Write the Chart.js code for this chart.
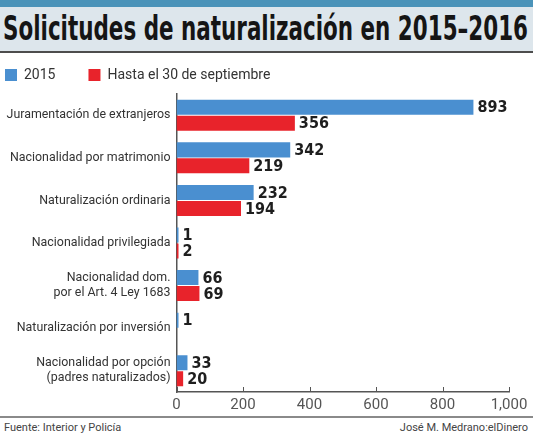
<!DOCTYPE html>
<html>
<head>
<meta charset="utf-8">
<script src="https://cdn.jsdelivr.net/npm/chart.js@4/dist/chart.umd.min.js"></script>
<style>
  html, body { margin: 0; padding: 0; background: #fff; }
  #page { position: relative; width: 533px; height: 440px; overflow: hidden; font-family: Roboto, 'DejaVu Sans Condensed', sans-serif; }
  #stripe { position: absolute; left: 0; top: 0; width: 533px; height: 7px; background: #4a93b9; }
  #head { position: absolute; left: 0; top: 7px; width: 533px; height: 44px; background: #dde6ec; border-bottom: 2px solid #4d4d4d; }
  #title { position: absolute; left: 3px; top: 3px; margin: 0; font-family: 'DejaVu Sans Condensed', sans-serif; font-size: 33px; font-weight: bold; color: #151515; white-space: nowrap; transform-origin: 0 0; line-height: 38px; }
  #foot { position: absolute; left: 0; top: 416px; width: 533px; height: 2px; background: #8a8a8a; }
  .src { position: absolute; top: 421px; font-size: 11px; color: #444; white-space: nowrap; }
  canvas { position: absolute; left: 0; top: 0; }
</style>
</head>
<body>
<div id="page">
  <div id="stripe"></div>
  <div id="head"><h1 id="title">Solicitudes de naturalización en 2015–2016</h1></div>
  <div id="foot"></div>
  <div class="src" style="left:4px">Fuente: Interior y Policía</div>
  <div class="src" style="right:5px">José M. Medrano:elDinero</div>
  <canvas id="myChart" width="533" height="440"></canvas>
</div>
<script>
/* global Chart */
var categories = [
  'Juramentación de extranjeros',
  'Nacionalidad por matrimonio',
  'Naturalización ordinaria',
  'Nacionalidad privilegiada',
  ['Nacionalidad dom.', 'por el Art. 4 Ley 1683'],
  'Naturalización por inversión',
  ['Nacionalidad por opción', '(padres naturalizados)']
]
var values2015 = [893, 342, 232, 1, 66, 1, 33]
var valuesSept = [356, 219, 194, 2, 69, null, 20]
var seriesNames = ['2015', 'Hasta el 30 de septiembre']
var xTicks = [0, 200, 400, 600, 800, 1000]

var FONT = "Roboto, 'DejaVu Sans Condensed', sans-serif"
var BOLD = "'DejaVu Sans Condensed', Roboto, sans-serif"

// squeeze the title into the header width
var title = document.getElementById('title')
var tw = title.getBoundingClientRect().width
title.style.transform = 'scaleX(' + (525 / tw) + ')'

// bold value at the end of each bar
var valueLabels = {
  id: 'valueLabels',
  afterDatasetsDraw: function (chart) {
    var ctx = chart.ctx
    ctx.save()
    ctx.font = 'bold 16px ' + BOLD
    ctx.fillStyle = '#1e1e1e'
    ctx.textBaseline = 'middle'
    ctx.textAlign = 'left'
    chart.data.datasets.forEach(function (ds, i) {
      chart.getDatasetMeta(i).data.forEach(function (bar, j) {
        if (ds.data[j] === null) return
        ctx.fillText(ds.data[j], bar.x + 4, bar.y + 1)
      })
    })
    ctx.restore()
  }
}

// small tick marks pointing up from the x axis
var upTicks = {
  id: 'upTicks',
  afterDraw: function (chart) {
    var ctx = chart.ctx
    var x = chart.scales.x
    var bottom = chart.chartArea.bottom
    ctx.save()
    ctx.strokeStyle = '#555'
    ctx.lineWidth = 1
    xTicks.forEach(function (v) {
      var px = Math.round(x.getPixelForValue(v)) + 0.5
      ctx.beginPath()
      ctx.moveTo(px, bottom)
      ctx.lineTo(px, bottom - 5)
      ctx.stroke()
    })
    ctx.restore()
  }
}

// legend: fixed height, placed like the print legend
var legendPlace = {
  id: 'legendPlace',
  beforeInit: function (chart) {
    var fit = chart.legend.fit
    chart.legend.fit = function () {
      fit.call(this)
      this.height = 94
    }
  },
  afterLayout: function (chart) {
    chart.legend.left = 5 - 33
    chart.legend.top = 75 - 33 - 7
  }
}

var ctx = document.getElementById('myChart')
var myChart = new Chart(ctx, {
  type: 'bar',
  data: {
    labels: categories,
    datasets: [
      {
        label: seriesNames[0],
        data: values2015,
        backgroundColor: '#4a8fd0',
        categoryPercentage: 0.75,
        barPercentage: 0.94,
        minBarLength: 2
      },
      {
        label: seriesNames[1],
        data: valuesSept,
        backgroundColor: '#e8232b',
        categoryPercentage: 0.75,
        barPercentage: 0.94,
        minBarLength: 2
      }
    ]
  },
  options: {
    indexAxis: 'y',
    responsive: false,
    animation: false,
    layout: { padding: { top: 0, left: 0, right: 24, bottom: 0 } },
    plugins: {
      legend: {
        position: 'top',
        align: 'start',
        labels: {
          boxWidth: 12,
          boxHeight: 12,
          padding: 33,
          color: '#333',
          font: { family: FONT, size: 14 }
        }
      },
      tooltip: { enabled: false }
    },
    scales: {
      x: {
        min: 0,
        max: 1000,
        afterBuildTicks: function (scale) {
          scale.ticks = xTicks.map(function (v) { return { value: v } })
        },
        afterFit: function (scale) { scale.height = 48 },
        grid: { display: false, drawTicks: false },
        border: { display: true, color: '#555', width: 1.5 },
        ticks: {
          padding: 4,
          color: '#555',
          font: { family: FONT, size: 15 },
          callback: function (v) { return v.toLocaleString('en-US') }
        }
      },
      y: {
        afterFit: function (scale) { scale.width = 176.5 },
        grid: { display: false, drawTicks: false },
        border: { display: true, color: '#555', width: 1.5 },
        ticks: {
          padding: 6,
          color: '#333',
          font: { family: FONT, size: 12.4, lineHeight: 1.2 }
        }
      }
    }
  },
  plugins: [valueLabels, upTicks, legendPlace]
})
</script>
</body>
</html>
